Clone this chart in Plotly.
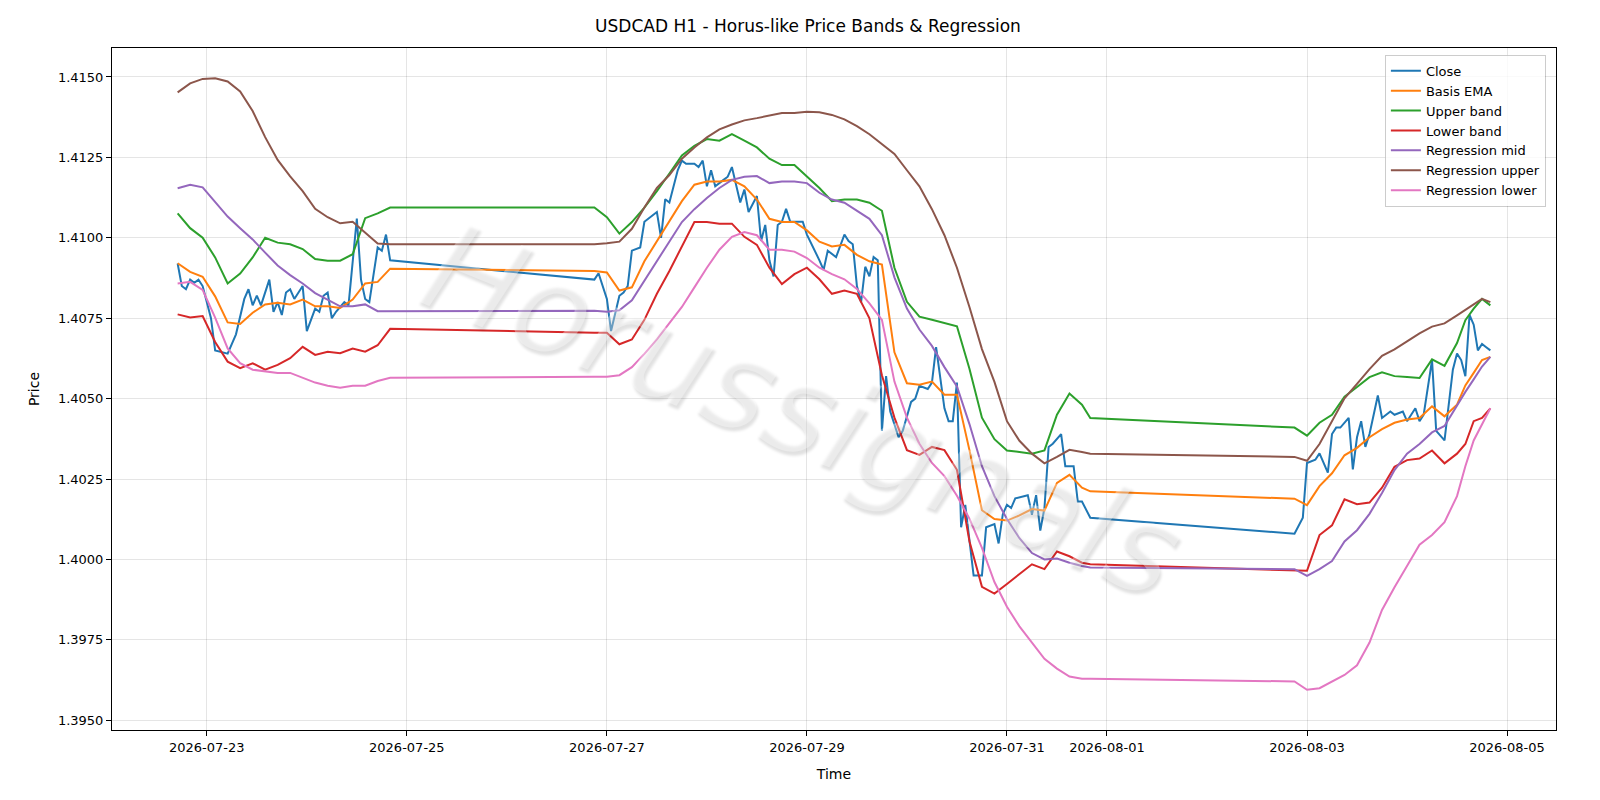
import plotly.graph_objects as go

# ---------------- datos ----------------

# Close (H1, muestreado)
close_time = [
    "2026-07-22 17:00", "2026-07-22 18:00", "2026-07-22 19:00", "2026-07-22 20:00", "2026-07-22 21:00",
    "2026-07-22 22:00", "2026-07-22 23:00", "2026-07-23 01:00", "2026-07-23 02:00", "2026-07-23 05:00",
    "2026-07-23 07:00", "2026-07-23 09:00", "2026-07-23 10:00", "2026-07-23 11:00", "2026-07-23 12:00",
    "2026-07-23 13:00", "2026-07-23 15:00", "2026-07-23 16:00", "2026-07-23 17:00", "2026-07-23 18:00",
    "2026-07-23 19:00", "2026-07-23 20:00", "2026-07-23 21:00", "2026-07-23 23:00", "2026-07-24 00:00",
    "2026-07-24 02:00", "2026-07-24 03:00", "2026-07-24 04:00", "2026-07-24 05:00", "2026-07-24 06:00",
    "2026-07-24 07:00", "2026-07-24 09:00", "2026-07-24 10:00", "2026-07-24 12:00", "2026-07-24 13:00",
    "2026-07-24 14:00", "2026-07-24 15:00", "2026-07-24 17:00", "2026-07-24 18:00", "2026-07-24 19:00",
    "2026-07-24 20:00",
    "2026-07-26 21:00", "2026-07-26 22:00", "2026-07-27 00:00", "2026-07-27 01:00", "2026-07-27 03:00",
    "2026-07-27 04:00", "2026-07-27 05:00", "2026-07-27 06:00", "2026-07-27 08:00", "2026-07-27 09:00",
    "2026-07-27 10:00", "2026-07-27 12:00", "2026-07-27 13:00", "2026-07-27 14:00", "2026-07-27 15:00",
    "2026-07-27 17:00", "2026-07-27 18:00", "2026-07-27 19:00", "2026-07-27 21:00", "2026-07-27 22:00",
    "2026-07-27 23:00", "2026-07-28 00:00", "2026-07-28 01:00", "2026-07-28 02:00", "2026-07-28 04:00",
    "2026-07-28 05:00", "2026-07-28 06:00", "2026-07-28 08:00", "2026-07-28 09:00", "2026-07-28 10:00",
    "2026-07-28 12:00", "2026-07-28 13:00", "2026-07-28 14:00", "2026-07-28 15:00", "2026-07-28 16:00",
    "2026-07-28 17:00", "2026-07-28 18:00", "2026-07-28 19:00", "2026-07-28 20:00", "2026-07-28 22:00",
    "2026-07-28 23:00", "2026-07-29 00:00", "2026-07-29 02:00", "2026-07-29 03:00", "2026-07-29 04:00",
    "2026-07-29 05:00", "2026-07-29 07:00", "2026-07-29 09:00", "2026-07-29 10:00", "2026-07-29 11:00",
    "2026-07-29 12:00", "2026-07-29 13:00", "2026-07-29 14:00", "2026-07-29 15:00", "2026-07-29 16:00",
    "2026-07-29 17:00", "2026-07-29 18:00", "2026-07-29 19:00", "2026-07-29 20:00", "2026-07-29 21:00",
    "2026-07-29 22:00", "2026-07-29 23:00", "2026-07-30 01:00", "2026-07-30 02:00", "2026-07-30 03:00",
    "2026-07-30 05:00", "2026-07-30 06:00", "2026-07-30 07:00", "2026-07-30 08:00", "2026-07-30 09:00",
    "2026-07-30 10:00", "2026-07-30 11:00", "2026-07-30 12:00", "2026-07-30 13:00", "2026-07-30 14:00",
    "2026-07-30 16:00", "2026-07-30 18:00", "2026-07-30 19:00", "2026-07-30 21:00", "2026-07-30 22:00",
    "2026-07-30 23:00", "2026-07-31 00:00", "2026-07-31 01:00", "2026-07-31 02:00", "2026-07-31 05:00",
    "2026-07-31 06:00", "2026-07-31 07:00", "2026-07-31 08:00", "2026-07-31 09:00", "2026-07-31 10:00",
    "2026-07-31 11:00", "2026-07-31 13:00", "2026-07-31 14:00", "2026-07-31 16:00", "2026-07-31 17:00",
    "2026-07-31 18:00", "2026-07-31 20:00",
    "2026-08-02 21:00", "2026-08-02 23:00", "2026-08-03 00:00", "2026-08-03 02:00", "2026-08-03 03:00",
    "2026-08-03 05:00", "2026-08-03 06:00", "2026-08-03 07:00", "2026-08-03 08:00", "2026-08-03 10:00",
    "2026-08-03 11:00", "2026-08-03 12:00", "2026-08-03 13:00", "2026-08-03 14:00", "2026-08-03 15:00",
    "2026-08-03 17:00", "2026-08-03 18:00", "2026-08-03 20:00", "2026-08-03 21:00", "2026-08-03 23:00",
    "2026-08-04 00:00", "2026-08-04 02:00", "2026-08-04 03:00", "2026-08-04 04:00", "2026-08-04 06:00",
    "2026-08-04 07:00", "2026-08-04 09:00", "2026-08-04 11:00", "2026-08-04 12:00", "2026-08-04 13:00",
    "2026-08-04 14:00", "2026-08-04 15:00", "2026-08-04 16:00", "2026-08-04 17:00", "2026-08-04 18:00",
    "2026-08-04 19:00", "2026-08-04 20:00",
]
close_val = [
    1.4092, 1.4085, 1.4084, 1.4087, 1.4086, 1.4087, 1.4085, 1.4075, 1.4065, 1.4064,
    1.4070, 1.4081, 1.4084, 1.4079, 1.4082, 1.4079, 1.4087, 1.4077, 1.4080, 1.4076,
    1.4083, 1.4084, 1.4081, 1.4085, 1.4071, 1.4078, 1.4077, 1.4082, 1.4083, 1.4075,
    1.4077, 1.4080, 1.4079, 1.4106, 1.4087, 1.4081, 1.4080, 1.4097, 1.4096, 1.4101,
    1.4093,
    1.4087, 1.4089, 1.4081, 1.4071, 1.4082, 1.4083, 1.4085, 1.4096, 1.4097, 1.4105,
    1.4106, 1.4108, 1.4100, 1.4112, 1.4111, 1.4121, 1.4124, 1.4123, 1.4123, 1.4122,
    1.4124, 1.4116, 1.4121, 1.4116, 1.4118, 1.4119, 1.4122, 1.4111, 1.4115, 1.4108,
    1.4113, 1.4099, 1.4104, 1.4093, 1.4088, 1.4104, 1.4105, 1.4109, 1.4105, 1.4105,
    1.4105, 1.4101, 1.4096, 1.4093, 1.4090, 1.4096, 1.4094, 1.4101, 1.4099, 1.4098,
    1.4085, 1.4080, 1.4091, 1.4088, 1.4094, 1.4093, 1.4040, 1.4057, 1.4046, 1.4042,
    1.4038, 1.4040, 1.4049, 1.4050, 1.4054, 1.4053, 1.4055, 1.4066, 1.4056, 1.4047,
    1.4043, 1.4043, 1.4055, 1.4010, 1.4017, 1.3995, 1.3995, 1.4010, 1.4011, 1.4005,
    1.4014, 1.4017, 1.4016, 1.4019, 1.4020, 1.4014, 1.4020, 1.4009, 1.4016, 1.4035,
    1.4036, 1.4039, 1.4029, 1.4029, 1.4018, 1.4018, 1.4013,
    1.4008, 1.4013, 1.4030, 1.4031, 1.4033, 1.4027, 1.4039, 1.4041, 1.4041, 1.4044,
    1.4028, 1.4038, 1.4043, 1.4035, 1.4039, 1.4051, 1.4044, 1.4046, 1.4045, 1.4046,
    1.4043, 1.4047, 1.4043, 1.4045, 1.4062, 1.4040, 1.4037, 1.4059, 1.4064, 1.4062,
    1.4057, 1.4076, 1.4073, 1.4065, 1.4067, 1.4066, 1.4065,
]

# Bandas y regresion (muestreadas cada ~3 horas)
band_time = [
    "2026-07-22 17:00", "2026-07-22 20:00", "2026-07-22 23:00", "2026-07-23 02:00", "2026-07-23 05:00",
    "2026-07-23 08:00", "2026-07-23 11:00", "2026-07-23 14:00", "2026-07-23 17:00", "2026-07-23 20:00",
    "2026-07-23 23:00", "2026-07-24 02:00", "2026-07-24 05:00", "2026-07-24 08:00", "2026-07-24 11:00",
    "2026-07-24 14:00", "2026-07-24 17:00", "2026-07-24 20:00",
    "2026-07-26 21:00", "2026-07-27 00:00", "2026-07-27 03:00", "2026-07-27 06:00", "2026-07-27 09:00",
    "2026-07-27 12:00", "2026-07-27 15:00", "2026-07-27 18:00", "2026-07-27 21:00", "2026-07-28 00:00",
    "2026-07-28 03:00", "2026-07-28 06:00", "2026-07-28 09:00", "2026-07-28 12:00", "2026-07-28 15:00",
    "2026-07-28 18:00", "2026-07-28 21:00", "2026-07-29 00:00", "2026-07-29 03:00", "2026-07-29 06:00",
    "2026-07-29 09:00", "2026-07-29 12:00", "2026-07-29 15:00", "2026-07-29 18:00", "2026-07-29 21:00",
    "2026-07-30 00:00", "2026-07-30 03:00", "2026-07-30 06:00", "2026-07-30 09:00", "2026-07-30 12:00",
    "2026-07-30 15:00", "2026-07-30 18:00",
    "2026-07-30 21:00", "2026-07-31 00:00", "2026-07-31 03:00", "2026-07-31 06:00", "2026-07-31 09:00",
    "2026-07-31 12:00", "2026-07-31 15:00", "2026-07-31 18:00", "2026-07-31 20:00",
    "2026-08-02 21:00", "2026-08-03 00:00", "2026-08-03 03:00", "2026-08-03 06:00", "2026-08-03 09:00",
    "2026-08-03 12:00", "2026-08-03 15:00", "2026-08-03 18:00", "2026-08-03 21:00", "2026-08-04 00:00",
    "2026-08-04 03:00", "2026-08-04 06:00", "2026-08-04 09:00", "2026-08-04 12:00", "2026-08-04 14:00",
    "2026-08-04 16:00", "2026-08-04 18:00", "2026-08-04 20:00",
]

basis_ema = [
    1.40921, 1.40894, 1.40879, 1.40818, 1.40737, 1.40732, 1.40767, 1.40793, 1.40798, 1.40793,
    1.40808, 1.40787, 1.40787, 1.40782, 1.40808, 1.40858, 1.40863, 1.40904,
    1.40897, 1.40892, 1.40836, 1.40846, 1.40927, 1.40988, 1.41049, 1.41114, 1.41165, 1.41175,
    1.41175, 1.41180, 1.41160, 1.41119, 1.41059, 1.41049, 1.41049, 1.41023, 1.40988, 1.40973,
    1.40978, 1.40947, 1.40927, 1.40917, 1.40644, 1.40548, 1.40543, 1.40553, 1.40512, 1.40512,
    1.40340, 1.40153,
    1.40126, 1.40121, 1.40137, 1.40157, 1.40152, 1.40238, 1.40263, 1.40223, 1.40212,
    1.40189, 1.40169, 1.40228, 1.40268, 1.40324, 1.40347, 1.40380, 1.40405, 1.40425, 1.40435,
    1.40440, 1.40476, 1.40445, 1.40481, 1.40541, 1.40580, 1.40620, 1.40630,
]
upper_band = [
    1.41076, 1.41030, 1.41000, 1.40939, 1.40858, 1.40889, 1.40939, 1.41000, 1.40985, 1.40980,
    1.40965, 1.40934, 1.40929, 1.40929, 1.40949, 1.41061, 1.41076, 1.41094,
    1.41094, 1.41064, 1.41013, 1.41049, 1.41094, 1.41145, 1.41200, 1.41256, 1.41286, 1.41307,
    1.41302, 1.41322, 1.41302, 1.41281, 1.41246, 1.41226, 1.41226, 1.41190, 1.41155, 1.41114,
    1.41119, 1.41119, 1.41109, 1.41084, 1.40907, 1.40801, 1.40755, 1.40745, 1.40735, 1.40725,
    1.40593, 1.40441,
    1.40374, 1.40339, 1.40334, 1.40329, 1.40339, 1.40450, 1.40516, 1.40481, 1.40440,
    1.40410, 1.40385, 1.40425, 1.40450, 1.40506, 1.40536, 1.40567, 1.40582, 1.40570, 1.40567,
    1.40564, 1.40622, 1.40602, 1.40673, 1.40744, 1.40780, 1.40810, 1.40790,
]
lower_band = [
    1.40762, 1.40752, 1.40757, 1.40676, 1.40615, 1.40595, 1.40610, 1.40590, 1.40605, 1.40626,
    1.40661, 1.40636, 1.40646, 1.40641, 1.40656, 1.40646, 1.40666, 1.40717,
    1.40705, 1.40705, 1.40669, 1.40684, 1.40745, 1.40826, 1.40897, 1.40973, 1.41049, 1.41049,
    1.41044, 1.41044, 1.41003, 1.40978, 1.40907, 1.40856, 1.40887, 1.40907, 1.40871, 1.40826,
    1.40836, 1.40826, 1.40750, 1.40573, 1.40441, 1.40340, 1.40325, 1.40350, 1.40340, 1.40279,
    1.40057, 1.39915,
    1.39894, 1.39924, 1.39954, 1.39985, 1.39970, 1.40025, 1.40010, 1.39990, 1.39985,
    1.39967, 1.39965, 1.40076, 1.40106, 1.40187, 1.40172, 1.40177, 1.40223, 1.40288, 1.40309,
    1.40314, 1.40339, 1.40299, 1.40329, 1.40359, 1.40430, 1.40440, 1.40470,
]
reg_mid = [
    1.41154, 1.41165, 1.41157, 1.41111, 1.41066, 1.41030, 1.40995, 1.40954, 1.40914, 1.40884,
    1.40858, 1.40828, 1.40808, 1.40787, 1.40787, 1.40793, 1.40772, 1.40772,
    1.40773, 1.40770, 1.40775, 1.40806, 1.40866, 1.40927, 1.40988, 1.41049, 1.41089, 1.41124,
    1.41155, 1.41180, 1.41190, 1.41192, 1.41170, 1.41175, 1.41175, 1.41170, 1.41140, 1.41119,
    1.41109, 1.41084, 1.41059, 1.41008, 1.40877, 1.40780, 1.40715, 1.40664, 1.40598, 1.40538,
    1.40421, 1.40290,
    1.40197, 1.40126, 1.40066, 1.40020, 1.40000, 1.40003, 1.39990, 1.39980, 1.39975,
    1.39970, 1.39949, 1.39970, 1.39995, 1.40056, 1.40091, 1.40142, 1.40207, 1.40278, 1.40329,
    1.40359, 1.40395, 1.40415, 1.40481, 1.40521, 1.40560, 1.40600, 1.40630,
]
reg_upper = [
    1.41452, 1.41480, 1.41494, 1.41496, 1.41486, 1.41455, 1.41394, 1.41313, 1.41242, 1.41191,
    1.41145, 1.41090, 1.41064, 1.41045, 1.41050, 1.41015, 1.40982, 1.40980,
    1.40980, 1.40983, 1.40988, 1.41028, 1.41094, 1.41155, 1.41195, 1.41246, 1.41281, 1.41312,
    1.41337, 1.41352, 1.41365, 1.41372, 1.41380, 1.41388, 1.41388, 1.41392, 1.41390, 1.41382,
    1.41368, 1.41347, 1.41322, 1.41291, 1.41261, 1.41210, 1.41160, 1.41089, 1.41008, 1.40907,
    1.40785, 1.40654,
    1.40552, 1.40430, 1.40369, 1.40329, 1.40299, 1.40319, 1.40341, 1.40334, 1.40329,
    1.40319, 1.40307, 1.40359, 1.40430, 1.40501, 1.40546, 1.40592, 1.40633, 1.40653, 1.40678,
    1.40703, 1.40724, 1.40734, 1.40759, 1.40776, 1.40795, 1.40810, 1.40800,
]
reg_lower = [
    1.40858, 1.40863, 1.40838, 1.40752, 1.40656, 1.40610, 1.40590, 1.40585, 1.40580, 1.40580,
    1.40565, 1.40550, 1.40540, 1.40534, 1.40540, 1.40540, 1.40555, 1.40565,
    1.40568, 1.40568, 1.40573, 1.40598, 1.40639, 1.40684, 1.40735, 1.40785, 1.40846, 1.40907,
    1.40963, 1.41003, 1.41018, 1.41008, 1.40963, 1.40963, 1.40957, 1.40937, 1.40907, 1.40887,
    1.40871, 1.40841, 1.40796, 1.40745, 1.40553, 1.40441, 1.40360, 1.40300, 1.40259, 1.40198,
    1.40127, 1.40036,
    1.39930, 1.39853, 1.39792, 1.39742, 1.39691, 1.39661, 1.39636, 1.39629, 1.39629,
    1.39621, 1.39595, 1.39600, 1.39621, 1.39641, 1.39671, 1.39742, 1.39843, 1.39914, 1.39980,
    1.40046, 1.40076, 1.40116, 1.40197, 1.40290, 1.40370, 1.40420, 1.40470,
]

x_ticks = ["2026-07-23", "2026-07-25", "2026-07-27", "2026-07-29", "2026-07-31",
           "2026-08-01", "2026-08-03", "2026-08-05"]
y_ticks = [1.3950, 1.3975, 1.4000, 1.4025, 1.4050, 1.4075, 1.4100, 1.4125, 1.4150]

# ---------------- grafico ----------------

fig = go.Figure()

series = [
    ("Close", close_time, close_val, "#1f77b4"),
    ("Basis EMA", band_time, basis_ema, "#ff7f0e"),
    ("Upper band", band_time, upper_band, "#2ca02c"),
    ("Lower band", band_time, lower_band, "#d62728"),
    ("Regression mid", band_time, reg_mid, "#9467bd"),
    ("Regression upper", band_time, reg_upper, "#8c564b"),
    ("Regression lower", band_time, reg_lower, "#e377c2"),
]
for name, xs, ys, color in series:
    fig.add_trace(go.Scatter(x=xs, y=ys, mode="lines", name=name,
                             line=dict(color=color, width=2)))

# marca de agua (letras claras con sombra)
fig.add_annotation(text="Horussignals", xref="paper", yref="paper", x=0.478, y=0.47,
                   showarrow=False, textangle=22,
                   font=dict(family="DejaVu Sans", size=125, color="rgba(255,255,255,0.35)",
                             style="italic", shadow="3px 3px 3px rgba(0,0,0,0.35)"))

axis_common = dict(showline=True, linecolor="black", linewidth=1, mirror=True,
                   ticks="outside", tickcolor="black", ticklen=5,
                   showgrid=True, gridcolor="rgba(0,0,0,0.1)", zeroline=False,
                   tickfont=dict(size=13, color="black"))

fig.update_xaxes(axis_common, title_text="Time", title_font=dict(size=14),
                 range=["2026-07-22 01:15", "2026-08-05 11:45"],
                 tickvals=x_ticks, ticktext=x_ticks)
fig.update_yaxes(axis_common, title_text="Price", title_font=dict(size=14),
                 range=[1.3947, 1.4159], tickvals=y_ticks, tickformat=".4f")

fig.update_layout(
    width=1600, height=800,
    title=dict(text="USDCAD H1 - Horus-like Price Bands & Regression", x=0.5, y=0.985,
               font=dict(size=17, color="black")),
    font=dict(family="DejaVu Sans", color="black"),
    plot_bgcolor="white", paper_bgcolor="white",
    margin=dict(l=104, r=52, t=40, b=78),
    legend=dict(x=0.993, y=0.99, xanchor="right", yanchor="top",
                bordercolor="rgba(0,0,0,0.2)", borderwidth=1,
                bgcolor="rgba(255,255,255,0.8)", font=dict(size=13)),
)

fig.write_html("out.html")
